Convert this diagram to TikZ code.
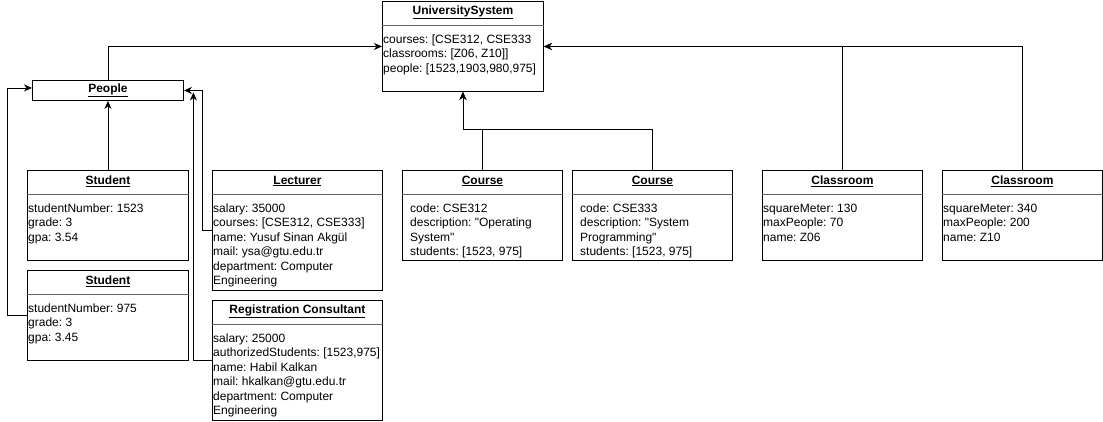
\documentclass[tikz,border=0pt]{standalone}
\usepackage{fontspec}
\setmainfont{Liberation Sans}[Ligatures=TeXOff]
\frenchspacing
\usetikzlibrary{arrows.meta}

\newcommand{\diagfont}{\fontsize{12}{14.5}\selectfont}

\tikzset{
  obj/.style={draw, line width=0.9pt, anchor=north west, inner sep=0pt},
  objtitle/.style={font=\diagfont\bfseries, inner sep=0pt},
  attrs/.style={anchor=north west, align=left, inner sep=0pt},
  divider/.style={draw=black!60, line width=1.6pt},
  link/.style={draw, line width=0.9pt, -{Stealth[length=8pt,width=7pt,inset=2.5pt]}}
}

\newcommand{\objbox}[8]{
  \node[obj, minimum width=#4pt, minimum height=#5pt] (#1) at (#2,#3) {};
  \node[objtitle] (#1-title) at ([yshift=-11pt]#1.north) {\underline{#6}};
  \draw[divider] ([yshift=-24.5pt]#1.north west) -- ([yshift=-24.5pt]#1.north east);
  \node[attrs] (#1-attr) at ([xshift=#8pt, yshift=-33.5pt]#1.north west) {#7};
}

\begin{document}
\begin{tikzpicture}[x=1pt, y=-1pt, font=\diagfont]
  \useasboundingbox (0,0) rectangle (1103,421);

  \objbox{us}{382}{1}{161}{90}{UniversitySystem}{courses: [CSE312, CSE333\\classrooms: [Z06, Z10]]\\people: [1523,1903,980,975]}{1}
  \node[obj, objtitle, minimum width=151pt, minimum height=20pt] (people) at (32,80) {\underline{People}};

  \objbox{st1}{27}{170}{161}{90}{Student}{studentNumber: 1523\\grade: 3\\gpa: 3.54}{1}
  \objbox{st2}{27}{270}{161}{90}{Student}{studentNumber: 975\\grade: 3\\gpa: 3.45}{1}
  \objbox{lect}{212}{170}{170}{120}{Lecturer}{salary: 35000\\courses: [CSE312, CSE333]\\name: Yusuf Sinan Akgül\\mail: ysa@gtu.edu.tr\\department: Computer\\Engineering}{1}
  \objbox{reg}{212}{300}{170}{120}{Registration Consultant}{salary: 25000\\authorizedStudents: [1523,975]\\name: Habil Kalkan\\mail: hkalkan@gtu.edu.tr\\department: Computer\\Engineering}{1}
  \objbox{crs1}{402}{170}{160}{90}{Course}{code: CSE312\\description: "Operating\\System"\\students: [1523, 975]}{8}
  \objbox{crs2}{572}{170}{160}{90}{Course}{code: CSE333\\description: "System\\Programming"\\students: [1523, 975]}{8}
  \objbox{room1}{762}{170}{160}{90}{Classroom}{squareMeter: 130\\maxPeople: 70\\name: Z06}{1}
  \objbox{room2}{942}{170}{160}{90}{Classroom}{squareMeter: 340\\maxPeople: 200\\name: Z10}{1}

  \draw[link] (people.north) |- (us.west);
  \draw[link] (st1.north) -- (people.south);
  \draw[link] (st2.west) -- ++(-20,0) |- ([yshift=2.5pt]people.west);
  \draw[link] (lect.west) -- ++(-9.5,0) |- (people.east);
  \draw[link] (reg.west) -| ([xshift=9.5pt,yshift=-2pt]people.east);
  \draw[link] (crs1.north) |- ([yshift=-38pt]us.south) -- (us.south);
  \draw[link] (crs2.north) |- ([yshift=-38pt]us.south) -- (us.south);
  \draw[link] (room1.north) |- (us.east);
  \draw[link] (room2.north) |- (us.east);
\end{tikzpicture}
\end{document}
